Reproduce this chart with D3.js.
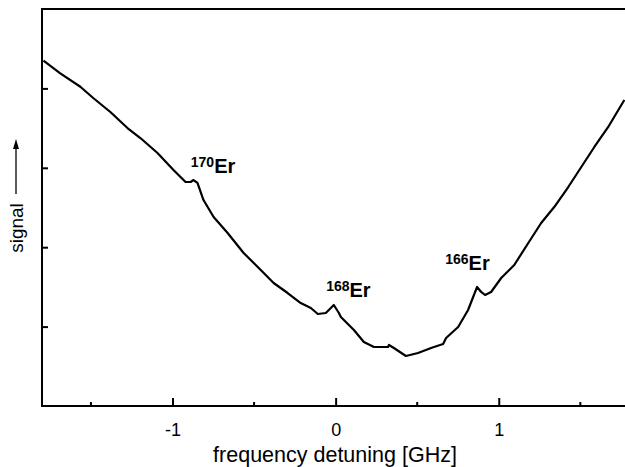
<!DOCTYPE html>
<html>
<head>
<meta charset="utf-8">
<script src="https://cdn.jsdelivr.net/npm/d3@7"></script>
<style>
  body { margin: 0; background: #fff; }
  text { font-family: "Liberation Sans", Arial, sans-serif; fill: #000; }
</style>
</head>
<body>
<div id="chart"></div>
<script>
// frequency detuning [GHz] and signal (arb. units)
const detuning = [-1.791, -1.688, -1.565, -1.486, -1.381, -1.276, -1.197, -1.092, -0.994, -0.920,
    -0.889, -0.871, -0.847, -0.810, -0.748, -0.662, -0.564, -0.459, -0.380, -0.294,
    -0.214, -0.152, -0.109, -0.060, -0.011, 0.020, 0.032, 0.112, 0.173, 0.235,
    0.321, 0.327, 0.357, 0.431, 0.505, 0.585, 0.659, 0.677, 0.751, 0.812,
    0.843, 0.867, 0.892, 0.916, 0.953, 1.015, 1.095, 1.181, 1.260, 1.340,
    1.426, 1.506, 1.586, 1.671, 1.733, 1.770];
const signal = [4.349, 4.190, 4.021, 3.879, 3.703, 3.501, 3.375, 3.186, 2.972, 2.821,
    2.821, 2.846, 2.809, 2.594, 2.380, 2.179, 1.927, 1.713, 1.549, 1.423,
    1.297, 1.234, 1.159, 1.171, 1.272, 1.171, 1.121, 0.957, 0.806, 0.743,
    0.743, 0.768, 0.730, 0.630, 0.668, 0.730, 0.781, 0.856, 0.995, 1.209,
    1.373, 1.499, 1.436, 1.398, 1.436, 1.612, 1.776, 2.053, 2.305, 2.506,
    2.758, 3.010, 3.262, 3.514, 3.728, 3.854];

const xMajor = [-1, 0, 1];
const xMinor = [-1.5, -0.5, 0.5, 1.5];
const yTicks = [1, 2, 3, 4];

// isotope labels and where they sit (data units: left edge, baseline)
const isotopes = ["170", "168", "166"];
const isoX = [-0.888, -0.058, 0.672];
const isoY = [2.934, 1.373, 1.713];

const W = 625, H = 467;
const margin = { top: 9, right: -1, bottom: 61, left: 42 };

const svg = d3.select("#chart").append("svg")
    .attr("width", W)
    .attr("height", H);

const x = d3.scaleLinear().domain([-1.8, 1.78]).range([margin.left, W - margin.right]);
const y = d3.scaleLinear().domain([0, 5]).range([H - margin.bottom, margin.top]);

// frame (right side falls off the picture)
svg.append("rect")
    .attr("x", x(-1.8))
    .attr("y", y(5))
    .attr("width", x(1.78) - x(-1.8))
    .attr("height", y(0) - y(5))
    .attr("fill", "none")
    .attr("stroke", "#000")
    .attr("stroke-width", 2);

// bottom axis, ticks pointing inwards
const xAxis = svg.append("g")
    .attr("transform", "translate(0," + y(0) + ")")
    .call(d3.axisBottom(x).tickValues(xMajor).tickSize(-8).tickPadding(17).tickFormat(d => String(d)));
xAxis.select(".domain").remove();
xAxis.selectAll("line").attr("stroke-width", 2);
xAxis.selectAll("text").attr("font-size", 18).attr("font-family", "Liberation Sans, Arial, sans-serif");

svg.append("g")
    .selectAll("line")
    .data(xMinor)
    .enter().append("line")
    .attr("x1", d => x(d)).attr("x2", d => x(d))
    .attr("y1", y(0)).attr("y2", y(0) - 4)
    .attr("stroke", "#000")
    .attr("stroke-width", 2);

// left axis, ticks pointing inwards, no labels
const yAxis = svg.append("g")
    .attr("transform", "translate(" + x(-1.8) + ",0)")
    .call(d3.axisLeft(y).tickValues(yTicks).tickSize(-6).tickFormat(""));
yAxis.select(".domain").remove();
yAxis.selectAll("line").attr("stroke-width", 2);

// the spectrum
const line = d3.line()
    .x((d, i) => x(detuning[i]))
    .y(d => y(d));

svg.append("path")
    .datum(signal)
    .attr("fill", "none")
    .attr("stroke", "#000")
    .attr("stroke-width", 2.2)
    .attr("stroke-linejoin", "round")
    .attr("d", line);

// isotope labels
isotopes.forEach((iso, i) => {
    const t = svg.append("text")
        .attr("x", x(isoX[i]))
        .attr("y", y(isoY[i]))
        .attr("font-weight", "bold");
    t.append("tspan").attr("font-size", 14).attr("dy", -6).text(iso);
    t.append("tspan").attr("font-size", 20).attr("dy", 6).text("Er");
});

// axis titles
svg.append("text")
    .attr("x", 335)
    .attr("y", 462)
    .attr("text-anchor", "middle")
    .attr("font-size", 21.5)
    .text("frequency detuning [GHz]");

svg.append("text")
    .attr("transform", "translate(23,228) rotate(-90)")
    .attr("text-anchor", "middle")
    .attr("font-size", 19)
    .text("signal");

svg.append("line")
    .attr("x1", 16).attr("x2", 16)
    .attr("y1", 194).attr("y2", 146)
    .attr("stroke", "#000")
    .attr("stroke-width", 1.3);
svg.append("path")
    .attr("d", "M16,139 L13,149 L19,149 Z")
    .attr("fill", "#000");
</script>
</body>
</html>
